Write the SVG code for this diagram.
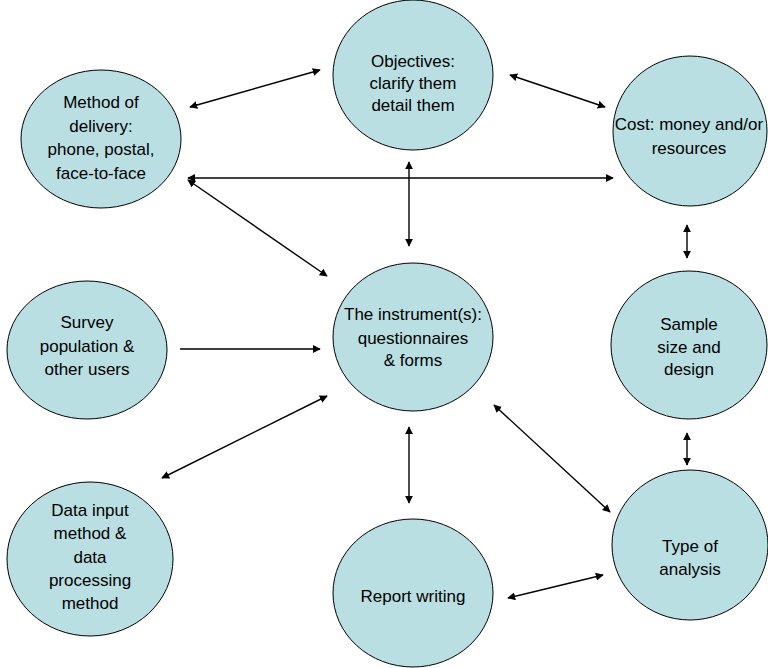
<svg xmlns="http://www.w3.org/2000/svg" width="768" height="668" viewBox="0 0 768 668">
<defs>
<marker id="ah" viewBox="0 0 10 10" refX="9" refY="5" markerWidth="8" markerHeight="8" markerUnits="userSpaceOnUse" orient="auto-start-reverse">
<path d="M0,0 L10,5 L0,10 z" fill="#000"/>
</marker>
<style>
.n ellipse{fill:#b9dfe2;stroke:#000;stroke-width:1}
.n text{font-family:"Liberation Sans",Arial,sans-serif;font-size:17px;fill:#000;text-anchor:middle}
.c line{stroke:#000;stroke-width:1.4;marker-end:url(#ah)}
.c line.b{marker-start:url(#ah)}
</style>
</defs>
<rect width="768" height="668" fill="#fff"/>
<g class="c">
<line class="b" x1="190" y1="107" x2="320" y2="70"/>
<line class="b" x1="510" y1="75" x2="605" y2="107"/>
<line class="b" x1="188" y1="178" x2="613" y2="178"/>
<line class="b" x1="188" y1="180" x2="327" y2="276"/>
<line class="b" x1="409" y1="162" x2="409" y2="246"/>
<line class="b" x1="687" y1="225" x2="687" y2="258"/>
<line x1="180" y1="349" x2="320" y2="349"/>
<line class="b" x1="327" y1="396" x2="162" y2="478"/>
<line class="b" x1="409" y1="427" x2="409" y2="503"/>
<line class="b" x1="494" y1="405" x2="610" y2="512"/>
<line class="b" x1="687" y1="433" x2="687" y2="465"/>
<line class="b" x1="508" y1="598" x2="603" y2="575"/>
</g>
<g id="method" class="n">
<ellipse cx="101" cy="139" rx="80" ry="69"/>
<text x="101" y="108">Method of</text>
<text x="101" y="132">delivery:</text>
<text x="101" y="155">phone, postal,</text>
<text x="101" y="179">face-to-face</text>
</g>
<g id="objectives" class="n">
<ellipse cx="413" cy="75" rx="80" ry="75"/>
<text x="413" y="67">Objectives:</text>
<text x="413" y="89">clarify them</text>
<text x="413" y="111">detail them</text>
</g>
<g id="cost" class="n">
<ellipse cx="690" cy="131" rx="77" ry="75"/>
<text x="689" y="130">Cost: money and/or</text>
<text x="689" y="154">resources</text>
</g>
<g id="survey" class="n">
<ellipse cx="87" cy="350" rx="80" ry="69"/>
<text x="87" y="328">Survey</text>
<text x="87" y="352">population &amp;</text>
<text x="87" y="375">other users</text>
</g>
<g id="instrument" class="n">
<ellipse cx="413" cy="337" rx="80" ry="74"/>
<text x="413" y="320">The instrument(s):</text>
<text x="413" y="344">questionnaires</text>
<text x="413" y="366">&amp; forms</text>
</g>
<g id="sample" class="n">
<ellipse cx="689" cy="345" rx="78" ry="74"/>
<text x="689" y="330">Sample</text>
<text x="689" y="353">size and</text>
<text x="689" y="375">design</text>
</g>
<g id="datainput" class="n">
<ellipse cx="90" cy="559" rx="83" ry="77"/>
<text x="90" y="516">Data input</text>
<text x="90" y="539">method &amp;</text>
<text x="90" y="563">data</text>
<text x="90" y="586">processing</text>
<text x="90" y="609">method</text>
</g>
<g id="report" class="n">
<ellipse cx="413" cy="593" rx="80" ry="74"/>
<text x="413" y="602">Report writing</text>
</g>
<g id="analysis" class="n">
<ellipse cx="690" cy="545" rx="78" ry="75"/>
<text x="690" y="552">Type of</text>
<text x="690" y="575">analysis</text>
</g>
</svg>
